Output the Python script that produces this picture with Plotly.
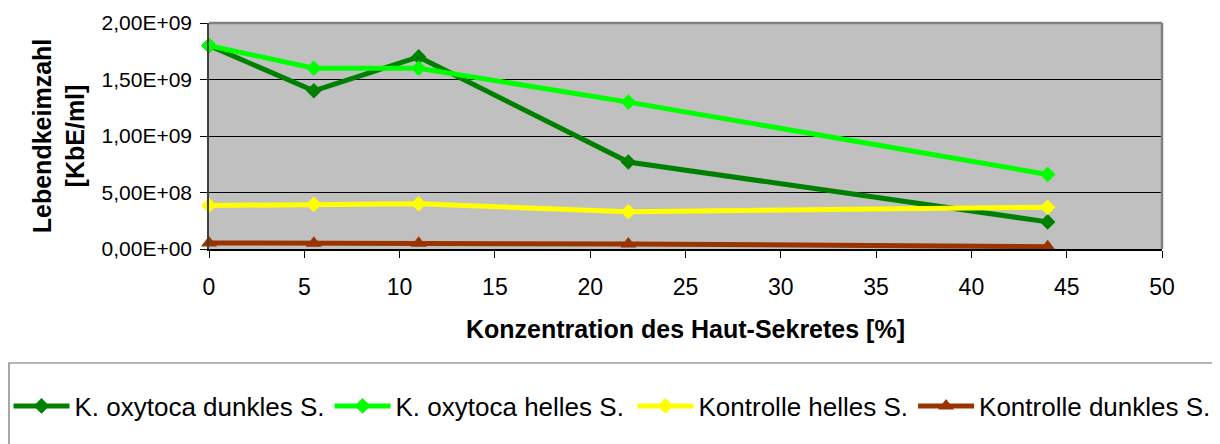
import plotly.graph_objects as go

konzentration = [0, 5.5, 11, 22, 44]
k_oxytoca_dunkel = [1.8e9, 1.4e9, 1.7e9, 7.7e8, 2.4e8]
k_oxytoca_hell = [1.8e9, 1.6e9, 1.6e9, 1.3e9, 6.6e8]
kontrolle_hell = [3.85e8, 3.95e8, 4.0e8, 3.3e8, 3.7e8]
kontrolle_dunkel = [5.3e7, 5.0e7, 5.0e7, 4.5e7, 2.0e7]

series_names = ["K. oxytoca dunkles S.", "K. oxytoca helles S.", "Kontrolle helles S.", "Kontrolle dunkles S."]
y_tickvals = [0, 5e8, 1e9, 1.5e9, 2e9]
y_ticktext = ["0,00E+00", "5,00E+08", "1,00E+09", "1,50E+09", "2,00E+09"]
x_tickvals = [0, 5, 10, 15, 20, 25, 30, 35, 40, 45, 50]

colors = ["#008000", "#00FF00", "#FFFF00", "#993300"]
symbols = ["diamond", "diamond", "diamond", "triangle-up"]
legend_ids = ["legend", "legend", "legend2", "legend2"]
data = [k_oxytoca_dunkel, k_oxytoca_hell, kontrolle_hell, kontrolle_dunkel]

# page offset (browser body margin) and plot geometry in figure pixels
OFF = 8
W, H = 1220 - OFF, 444 - OFF
L, R, T, B = 209 - OFF, 1162 - OFF, 23 - OFF, 249 - OFF


def px_x(sx):
    return (sx - OFF - L) / (R - L)


def px_y(sy):
    return (B - (sy - OFF)) / (B - T)


fig = go.Figure()
for name, ys, c, s, lg in zip(series_names, data, colors, symbols, legend_ids):
    fig.add_trace(go.Scatter(
        x=konzentration, y=ys, name=name, mode="lines+markers",
        line=dict(color=c, width=5),
        marker=dict(symbol=s, size=12 if s == "diamond" else 14, color=c),
        cliponaxis=False, legend=lg,
    ))

font_family = "Liberation Sans, Arial, sans-serif"
legend_common = dict(
    orientation="h", yanchor="middle", xanchor="left",
    font=dict(size=26, family=font_family, color="black"),
    bgcolor="rgba(0,0,0,0)", borderwidth=0, itemwidth=56,
)

fig.update_layout(
    width=W, height=H,
    margin=dict(l=L, r=W - R, t=T, b=H - B, autoexpand=False),
    paper_bgcolor="white",
    plot_bgcolor="#C0C0C0",
    font=dict(family=font_family, color="black"),
    showlegend=True,
    legend=dict(x=px_x(8.5), y=px_y(406), **legend_common),
    legend2=dict(x=px_x(632.5), y=px_y(406), **legend_common),
    xaxis=dict(
        range=[0, 50], tickvals=x_tickvals, ticks="outside", ticklen=7,
        tickcolor="black", tickwidth=1,
        showgrid=False, zeroline=False,
        showline=True, linecolor="black", linewidth=1.5,
        tickfont=dict(size=23), ticklabelstandoff=10,
        title=dict(text="<b>Konzentration des Haut-Sekretes [%]</b>", font=dict(size=25), standoff=21),
    ),
    yaxis=dict(
        range=[0, 2e9], tickvals=y_tickvals, ticktext=y_ticktext,
        ticks="outside", ticklen=7, tickcolor="black", tickwidth=1,
        showgrid=True, gridcolor="black", gridwidth=1,
        zeroline=False,
        showline=True, linecolor="#404040", linewidth=1.5,
        tickfont=dict(size=21), ticklabelstandoff=4,
        title=dict(text="<b>Lebendkeimzahl<br>[KbE/ml]</b>", font=dict(size=25), standoff=10),
    ),
)

# gray frame on top and right of plot area
fig.add_shape(type="line", xref="paper", yref="paper", x0=0, x1=1, y0=1, y1=1,
              line=dict(color="#808080", width=2.5))
fig.add_shape(type="line", xref="paper", yref="paper", x0=1, x1=1, y0=0, y1=1,
              line=dict(color="#808080", width=2.5))
# legend frame
fig.add_shape(type="rect", xref="paper", yref="paper",
              x0=px_x(9), x1=px_x(1260), y0=px_y(470), y1=px_y(363),
              line=dict(color="#6E6E6E", width=1.2), fillcolor="rgba(0,0,0,0)", layer="below")

fig.write_html("out.html")
